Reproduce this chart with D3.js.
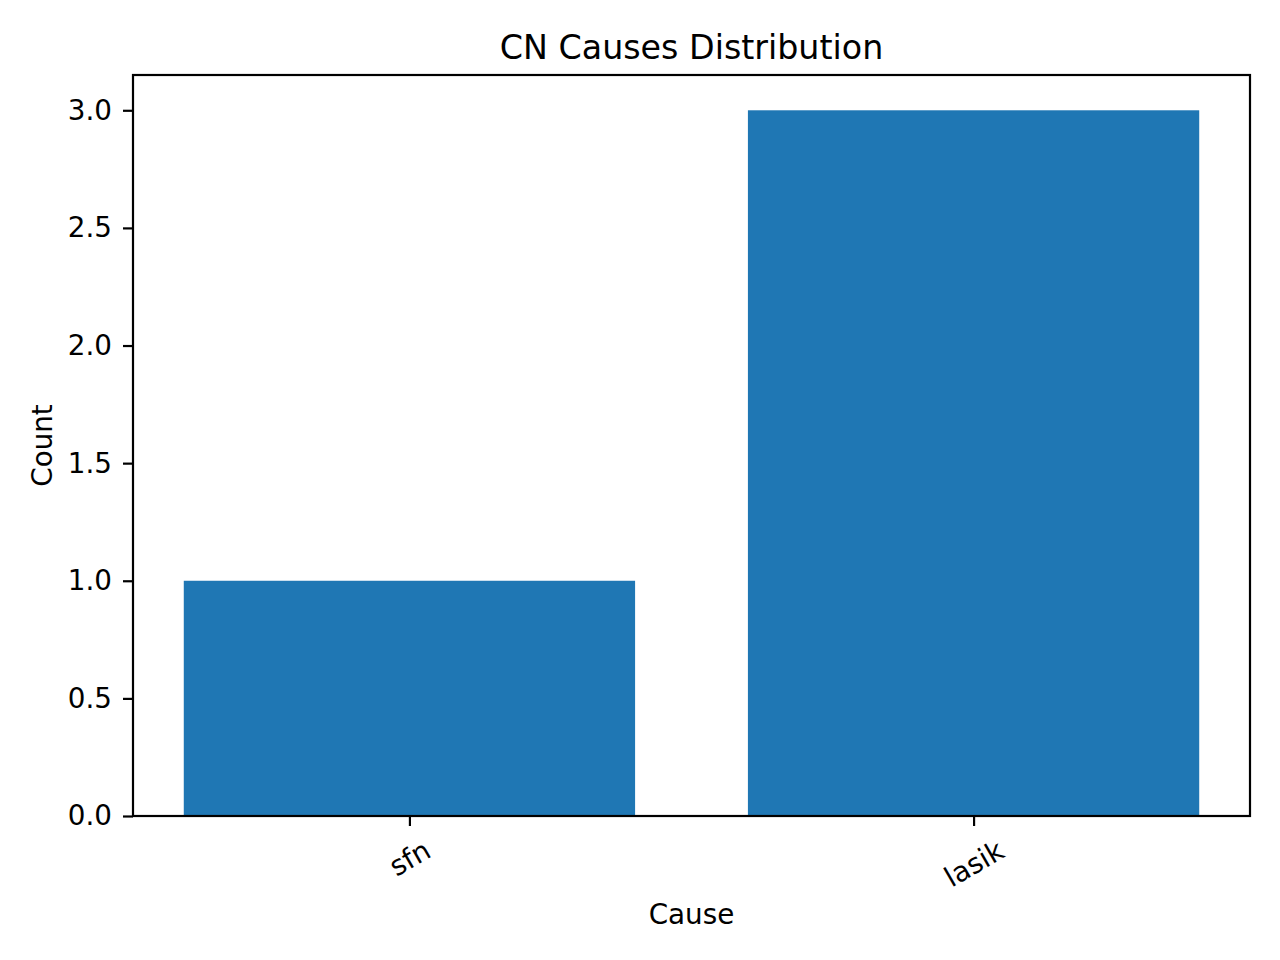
<!DOCTYPE html>
<html>
<head>
<meta charset="utf-8">
<script src="https://cdn.jsdelivr.net/npm/d3@7"></script>
<style>
  body { margin: 0; background: #fff; }
  svg { display: block; font-family: "DejaVu Sans", sans-serif; }
</style>
</head>
<body>
<div id="chart"></div>
<script>
// data
const causes = ["sfn", "lasik"];
const counts = [1, 3];
const yTicks = [0, 0.5, 1.0, 1.5, 2.0, 2.5, 3.0];

const width = 1280, height = 960;
const margin = { top: 75, right: 30, bottom: 144, left: 133 };
const plotW = width - margin.left - margin.right;
const plotH = height - margin.top - margin.bottom;
const barColor = "#1f77b4";

const svg = d3.select("#chart").append("svg")
    .attr("width", width)
    .attr("height", height);

// matplotlib style: bars at 0,1 width 0.8, 5% margins
const x = d3.scaleLinear()
    .domain([-0.49, 1.49])
    .range([margin.left, margin.left + plotW]);

const y = d3.scaleLinear()
    .domain([0, 3.15])
    .range([margin.top + plotH, margin.top]);

svg.selectAll("rect.bar")
    .data(counts)
    .enter()
    .append("rect")
    .attr("class", "bar")
    .attr("x", (d, i) => x(i - 0.4))
    .attr("width", (d, i) => x(i + 0.4) - x(i - 0.4))
    .attr("y", d => y(d))
    .attr("height", d => y(0) - y(d))
    .attr("fill", barColor);

// y axis
const yAxis = svg.append("g")
    .attr("transform", `translate(${margin.left},0)`)
    .call(d3.axisLeft(y).tickValues(yTicks).tickFormat(d3.format(".1f")).tickSizeOuter(0).tickSize(10).tickPadding(11));
yAxis.select(".domain").remove();
yAxis.selectAll("line").attr("stroke", "#000").attr("stroke-width", 2.2);
yAxis.selectAll("text").attr("font-size", 27.8).attr("font-family", "DejaVu Sans").attr("fill", "#000");

// x axis
const xAxis = svg.append("g")
    .attr("transform", `translate(0,${margin.top + plotH})`)
    .call(d3.axisBottom(x).tickValues([0, 1]).tickFormat(i => causes[i]).tickSizeOuter(0).tickSize(10));
xAxis.select(".domain").remove();
xAxis.selectAll("line").attr("stroke", "#000").attr("stroke-width", 2.2);

// rotated tick labels, centered like matplotlib's rotation=30
xAxis.selectAll("text")
    .attr("font-size", 27.8)
    .attr("font-family", "DejaVu Sans")
    .attr("fill", "#000")
    .attr("dy", null)
    .attr("y", 0)
    .attr("text-anchor", "middle")
    .attr("dominant-baseline", "central")
    .each(function() {
        const b = this.getBBox();
        const a = Math.PI / 6;
        const H = b.width * Math.sin(a) + b.height * Math.cos(a);
        const cy = 10 + 7.5 + H / 2;
        d3.select(this).attr("transform", `translate(0,${cy}) rotate(-30)`);
    });

// frame
svg.append("rect")
    .attr("x", margin.left)
    .attr("y", margin.top)
    .attr("width", plotW)
    .attr("height", plotH)
    .attr("fill", "none")
    .attr("stroke", "#000")
    .attr("stroke-width", 2.2);

// labels
svg.append("text")
    .attr("x", margin.left + plotW / 2)
    .attr("y", 47)
    .attr("text-anchor", "middle")
    .attr("dominant-baseline", "central")
    .attr("font-size", 33.3)
    .text("CN Causes Distribution");

svg.append("text")
    .attr("x", margin.left + plotW / 2)
    .attr("y", 914)
    .attr("text-anchor", "middle")
    .attr("dominant-baseline", "central")
    .attr("font-size", 27.8)
    .text("Cause");

svg.append("text")
    .attr("transform", `translate(42,${margin.top + plotH / 2}) rotate(-90)`)
    .attr("text-anchor", "middle")
    .attr("dominant-baseline", "central")
    .attr("font-size", 27.8)
    .text("Count");
</script>
</body>
</html>
